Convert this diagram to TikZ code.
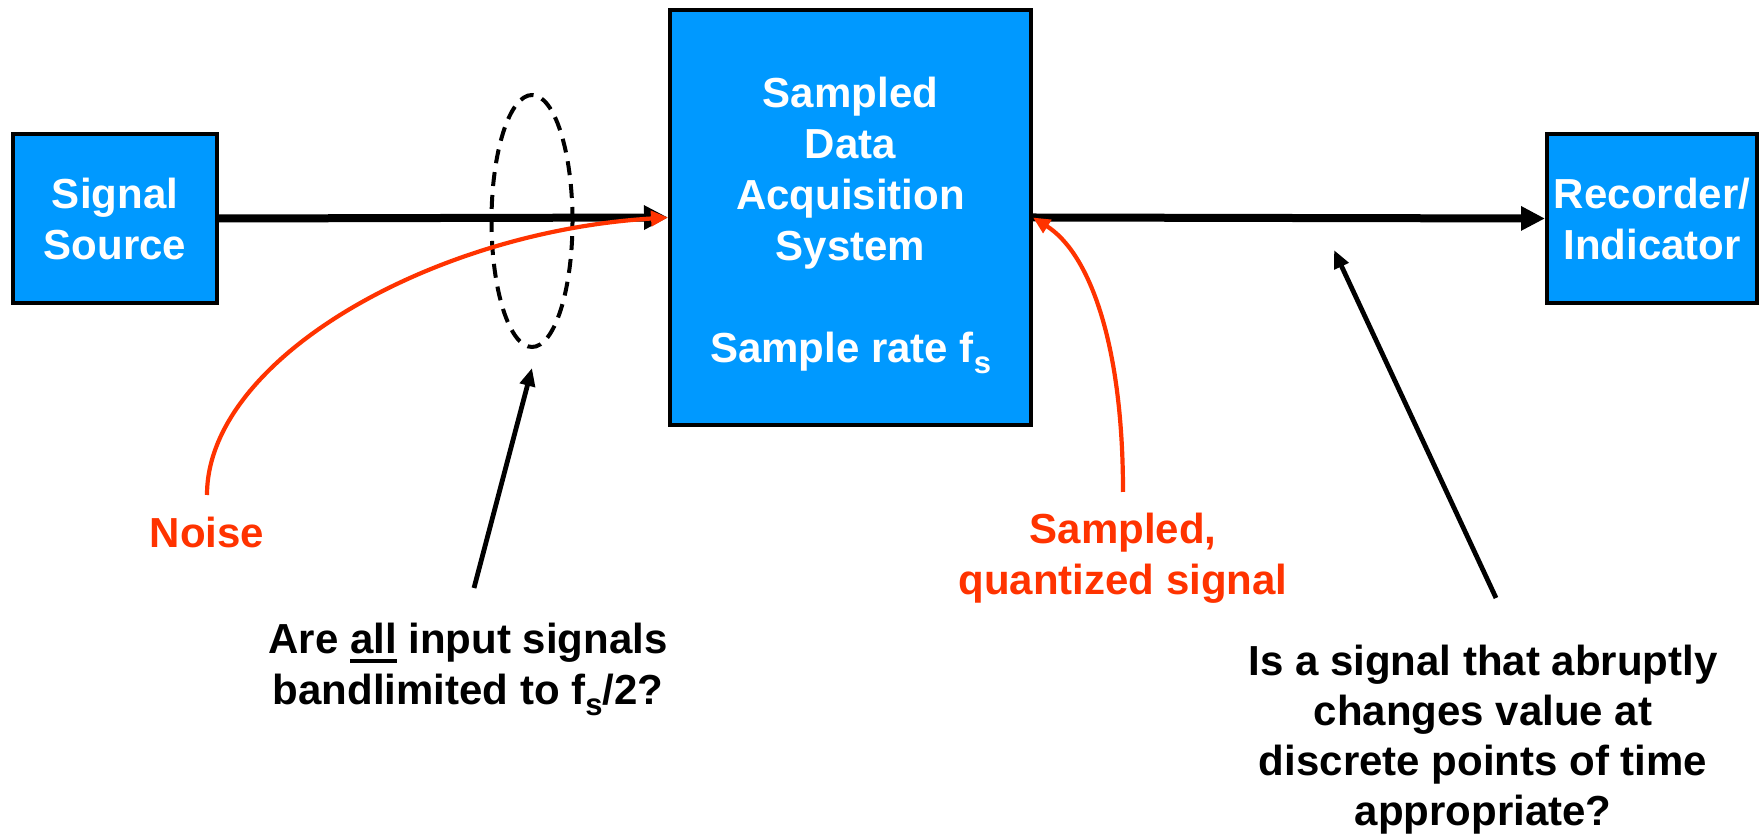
\documentclass[tikz,border=0pt]{standalone}
\usepackage{fontspec}
\setmainfont{Liberation Sans}
\usetikzlibrary{arrows.meta,shapes.geometric}
\definecolor{boxblue}{HTML}{0099FF}
\definecolor{notered}{HTML}{FF3300}
\newcommand{\lowsub}[1]{\raisebox{-5.5pt}{\fontsize{15.5}{15.5}\selectfont #1}}
\newcommand{\thickul}[1]{\setbox0\hbox{#1}\rlap{\rule[-4.5pt]{\wd0}{2pt}}#1}
\begin{document}
\begin{tikzpicture}[x=0.5pt,y=-0.5pt,
  every node/.style={font=\fontsize{21}{25.5}\selectfont\bfseries},
  block/.style={draw=black,line width=2pt,fill=boxblue,text=white,align=center,inner sep=0pt},
  mainarrow/.style={line width=4pt,-{Triangle[length=12pt,width=11.5pt]}},
  pointer/.style={line width=2.4pt,-{Triangle[length=9pt,width=7.5pt]}},
  redcurve/.style={draw=notered,line width=2.1pt,-{Triangle[length=8.5pt,width=7.5pt]}},
  redlabel/.style={text=notered,align=center,inner sep=0pt},
  question/.style={text=black,align=center,inner sep=0pt},
  bandring/.style={draw=black,ellipse,line width=2pt,dash pattern=on 7pt off 4.5pt,inner sep=0pt}
]
\useasboundingbox (0,0) rectangle (1760,838);
\node[block,minimum width=102pt,minimum height=84.5pt] (src) at (115,218.5) {Signal\\Source};
\node[block,minimum width=180.5pt,minimum height=207.5pt] (daq) at (850.5,217.5) {\rule{0pt}{23.3pt}Sampled\\Data\\Acquisition\\System\\[25.5pt]Sample rate f\lowsub{s}};
\node[block,minimum width=105pt,minimum height=84.5pt] (rec) at (1652,218.5) {Recorder/\\Indicator};
\node[bandring,minimum width=40.5pt,minimum height=126pt] (band) at (532,221) {};
\node[redlabel,anchor=base] (noise) at (207,548) {Noise};
\node[question,anchor=north] (q1) at (468,623) {Are \thickul{all} input signals\\bandlimited to f\lowsub{s}/2?};
\node[redlabel,anchor=north] (sq) at (1123,513) {Sampled,\\quantized signal};
\node[question,anchor=north,font=\fontsize{21}{25}\selectfont\bfseries] (q2) at (1483,645) {Is a signal that abruptly\\changes value at\\discrete points of time\\appropriate?};
\coordinate (nstart) at (207,495);
\coordinate (sqstart) at (1123,492);
\coordinate (q1start) at (474,588);
\coordinate (q1end) at (532,368);
\coordinate (q2start) at (1496,598);
\coordinate (q2end) at (1334,250);
\draw[mainarrow] (src.east) -- (daq.west);
\draw[mainarrow] (daq.east) -- (rec.west);
\draw[redcurve] (nstart) .. controls (207,360) and (430,232) .. (daq.west);
\draw[redcurve] (sqstart) .. controls (1123,340) and (1088,252) .. (daq.east);
\draw[pointer] (q1start) -- (q1end);
\draw[pointer] (q2start) -- (q2end);
\end{tikzpicture}
\end{document}
